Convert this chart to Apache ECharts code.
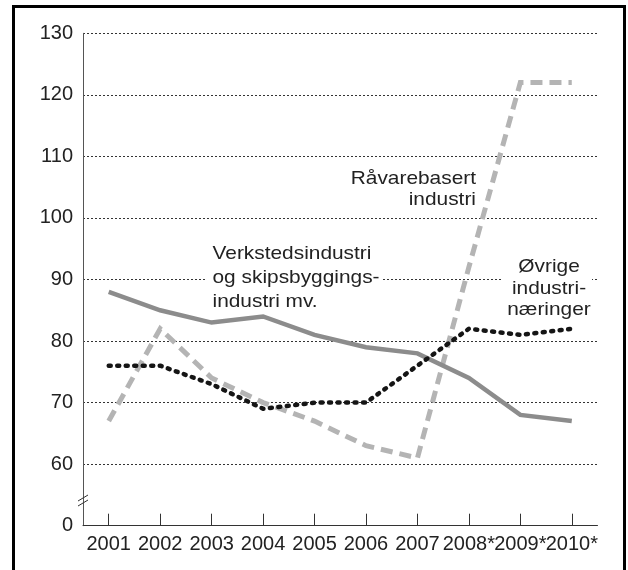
<!DOCTYPE html>
<html>
<head>
<meta charset="utf-8">
<script src="https://cdn.jsdelivr.net/npm/echarts@6/dist/echarts.min.js"></script>
<style>
html,body{margin:0;padding:0;background:#fff;}
#c{width:628px;height:570px;}
</style>
</head>
<body>
<div id="c"></div>
<script>
const years = ['2001','2002','2003','2004','2005','2006','2007','2008*','2009*','2010*'];
const verksted = [88, 85, 83, 84, 81, 79, 78, 74, 68, 67];
const ravare = [67, 82, 74, 70, 67, 63, 61, 92, 122, 122];
const ovrige = [76, 76, 73, 69, 70, 70, 76, 82, 81, 82];
const yTicks = [50, 60, 70, 80, 90, 100, 110, 120, 130];
const yLabelMap = {50: '0'};
const labelVerksted = 'Verkstedsindustri\nog skipsbyggings-\nindustri mv.';
const labelRavare = 'Råvarebasert\nindustri';
const labelOvrige = 'Øvrige\nindustri-\nnæringer';

const FONT = '"Liberation Sans", Arial, sans-serif';
const SX = 1.18;
const chart = echarts.init(document.getElementById('c'), null, {renderer: 'canvas'});
chart.setOption({
  animation: false,
  backgroundColor: '#fff',
  grid: {left: 83, right: 30.5, top: 33.3, bottom: 44.3, containLabel: false},
  xAxis: {
    type: 'category',
    data: years,
    boundaryGap: true,
    axisLine: {show: true, lineStyle: {color: '#333', width: 1}},
    axisTick: {show: true, inside: true, alignWithLabel: true, length: 12, lineStyle: {color: '#333', width: 1}},
    axisLabel: {interval: 0, fontSize: 20, color: '#222', fontFamily: FONT, margin: 9},
    splitLine: {show: false}
  },
  yAxis: {
    type: 'value',
    min: yTicks[0],
    max: yTicks[yTicks.length - 1],
    interval: 10,
    axisLine: {show: true, lineStyle: {color: '#555', width: 1}},
    axisTick: {show: false},
    axisLabel: {
      fontSize: 20, color: '#222', fontFamily: FONT, margin: 10,
      formatter: v => (yLabelMap[v] !== undefined ? yLabelMap[v] : String(v))
    },
    splitLine: {show: true, lineStyle: {color: '#333', width: 1, type: [2, 2]}}
  },
  series: [
    {
      name: 'Verkstedsindustri og skipsbyggingsindustri mv.',
      type: 'line', data: verksted, symbol: 'none', z: 3,
      lineStyle: {color: '#8c8c8c', width: 4.5, join: 'miter'}
    },
    {
      name: 'Råvarebasert industri',
      type: 'line', data: ravare, symbol: 'none', z: 2,
      lineStyle: {color: '#b4b4b4', width: 5, type: [12, 7], cap: 'butt', join: 'miter'}
    },
    {
      name: 'Øvrige industrinæringer',
      type: 'line', data: ovrige, symbol: 'none', z: 4,
      lineStyle: {color: '#151515', width: 4.5, type: [2, 6.5], cap: 'round', join: 'round'}
    }
  ],
  graphic: [
    {type: 'rect', z: 100, silent: true, shape: {x: 13.5, y: 6.5, width: 611, height: 600},
     style: {fill: 'none', stroke: '#000', lineWidth: 3}},
    {type: 'rect', z: 50, shape: {x: 206, y: 243, width: 177, height: 69}, style: {fill: '#fff'}},
    {type: 'text', z: 51, x: 212.5, y: 242.6, scaleX: SX,
     style: {x: 0, y: 0, text: labelVerksted,
      font: '17.7px ' + FONT, fill: '#222', align: 'left', verticalAlign: 'top', lineHeight: 24}},
    {type: 'text', z: 51, x: 476, y: 168.8, scaleX: SX,
     style: {x: 0, y: 0, text: labelRavare,
      font: '17.7px ' + FONT, fill: '#222', align: 'right', verticalAlign: 'top', lineHeight: 21}},
    {type: 'rect', z: 50, shape: {x: 503, y: 258, width: 89, height: 62}, style: {fill: '#fff'}},
    {type: 'text', z: 51, x: 549, y: 256.9, scaleX: SX,
     style: {x: 0, y: 0, text: labelOvrige,
      font: '17.7px ' + FONT, fill: '#222', align: 'center', verticalAlign: 'top', lineHeight: 21.4}},
    {type: 'line', z: 61, shape: {x1: 78, y1: 501, x2: 88, y2: 495}, style: {stroke: '#333', lineWidth: 1}},
    {type: 'line', z: 61, shape: {x1: 78, y1: 506, x2: 88, y2: 500}, style: {stroke: '#333', lineWidth: 1}}
  ]
});
</script>
</body>
</html>
